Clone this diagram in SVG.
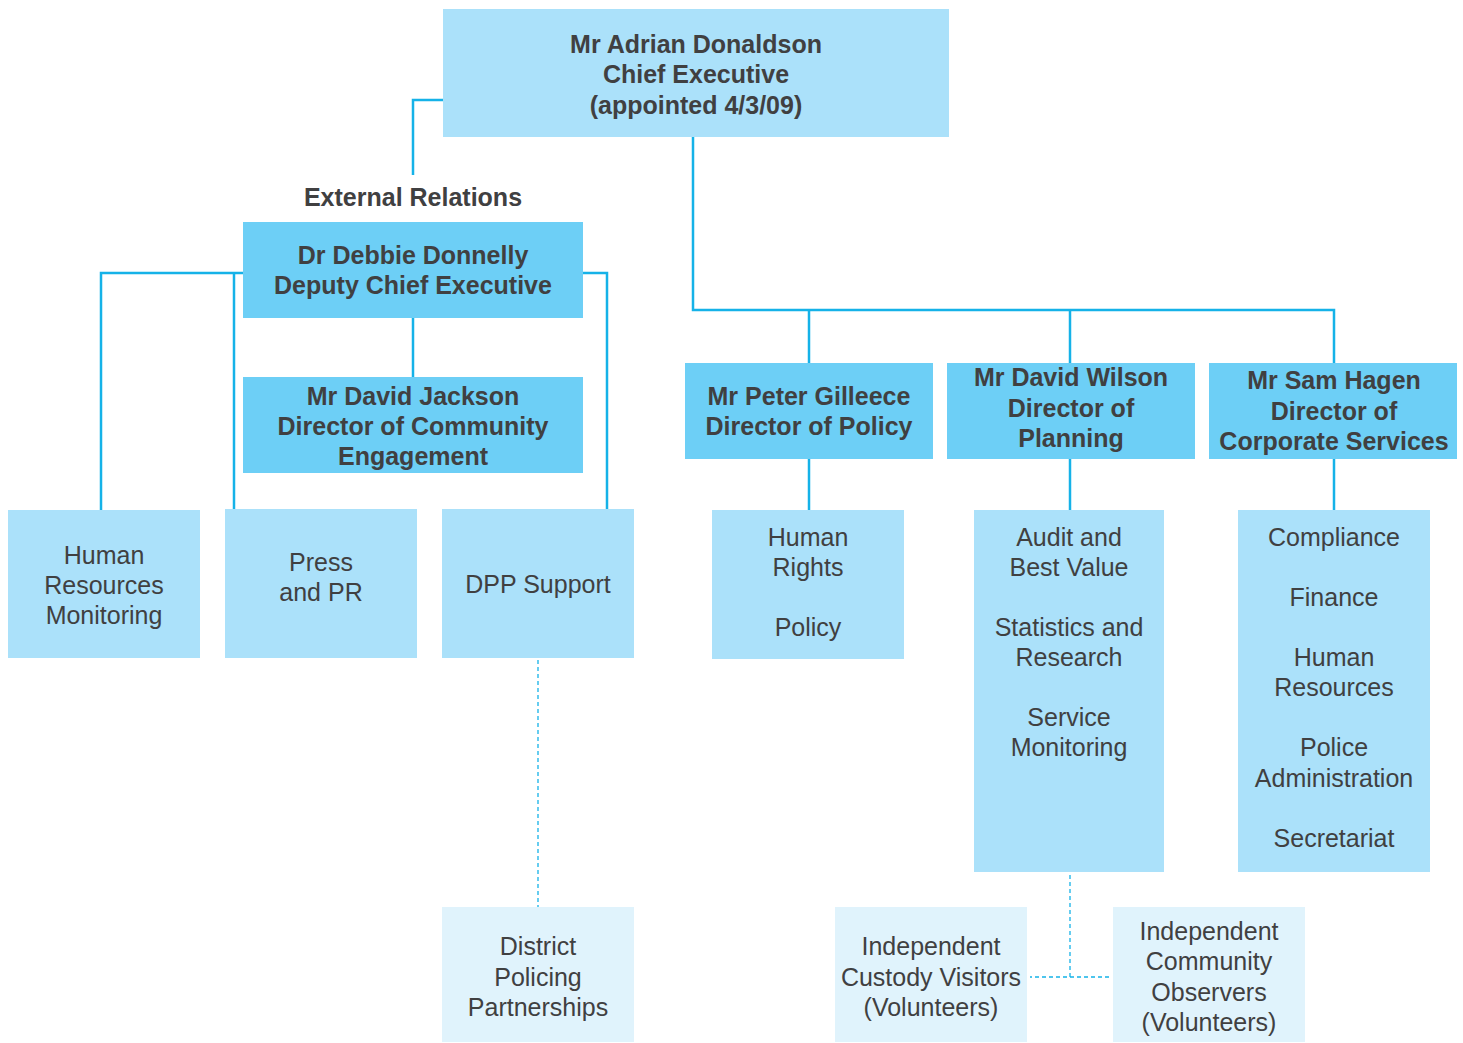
<svg xmlns="http://www.w3.org/2000/svg" width="1463" height="1043" viewBox="0 0 1463 1043">
<style>
.l1{fill:#abe1fa}
.l2{fill:#6dcff6}
.l3{fill:#e0f3fc}
text{font-family:"Liberation Sans",Arial,sans-serif;font-size:25px;fill:#404041;text-anchor:middle}
.b{font-weight:bold}
.c{fill:none;stroke:#15b2e8;stroke-width:2.5}
.d{fill:none;stroke:#15b2e8;stroke-width:1.3;stroke-dasharray:4 3}
</style>
<rect width="1463" height="1043" fill="#fff"/>
<g id="connectors">
<polyline class="c" points="443,100 413,100 413,175"/>
<polyline class="c" points="243,273 101,273 101,510"/>
<line class="c" x1="234" y1="273" x2="234" y2="509"/>
<polyline class="c" points="583,273 607,273 607,509"/>
<line class="c" x1="413" y1="318" x2="413" y2="377"/>
<polyline class="c" points="693,137 693,310 1334,310 1334,363"/>
<line class="c" x1="809" y1="310" x2="809" y2="363"/>
<line class="c" x1="1070" y1="310" x2="1070" y2="363"/>
<line class="c" x1="809" y1="459" x2="809" y2="510"/>
<line class="c" x1="1070" y1="459" x2="1070" y2="510"/>
<line class="c" x1="1334" y1="459" x2="1334" y2="510"/>
<line class="d" x1="538" y1="660" x2="538" y2="907"/>
<polyline class="d" points="1070,875 1070,977 1030,977"/>
<line class="d" x1="1070" y1="977" x2="1112" y2="977"/>
</g>
<g id="ceo"><rect class="l1" x="443" y="9" width="506" height="128"/>
<text class="b" x="696" y="53">Mr Adrian Donaldson</text>
<text class="b" x="696" y="83">Chief Executive</text>
<text class="b" x="696" y="114">(appointed 4/3/09)</text></g>
<g id="ext"><text class="b" x="413" y="206">External Relations</text></g>
<g id="deputy"><rect class="l2" x="243" y="222" width="340" height="96"/>
<text class="b" x="413" y="264">Dr Debbie Donnelly</text>
<text class="b" x="413" y="294">Deputy Chief Executive</text></g>
<g id="jackson"><rect class="l2" x="243" y="377" width="340" height="96"/>
<text class="b" x="413" y="405">Mr David Jackson</text>
<text class="b" x="413" y="435">Director of Community</text>
<text class="b" x="413" y="465">Engagement</text></g>
<g id="hrm"><rect class="l1" x="8" y="510" width="192" height="148"/>
<text x="104" y="564">Human</text><text x="104" y="594">Resources</text><text x="104" y="624">Monitoring</text></g>
<g id="press"><rect class="l1" x="225" y="509" width="192" height="149"/>
<text x="321" y="571">Press</text><text x="321" y="601">and PR</text></g>
<g id="dpp"><rect class="l1" x="442" y="509" width="192" height="149"/>
<text x="538" y="593">DPP Support</text></g>
<g id="dpps"><rect class="l3" x="442" y="907" width="192" height="135"/>
<text x="538" y="955">District</text><text x="538" y="986">Policing</text><text x="538" y="1016">Partnerships</text></g>
<g id="policy"><rect class="l2" x="685" y="363" width="248" height="96"/>
<text class="b" x="809" y="405">Mr Peter Gilleece</text>
<text class="b" x="809" y="435">Director of Policy</text></g>
<g id="planning"><rect class="l2" x="947" y="363" width="248" height="96"/>
<text class="b" x="1071" y="386">Mr David Wilson</text>
<text class="b" x="1071" y="417">Director of</text>
<text class="b" x="1071" y="447">Planning</text></g>
<g id="corporate"><rect class="l2" x="1209" y="363" width="248" height="96"/>
<text class="b" x="1334" y="389">Mr Sam Hagen</text>
<text class="b" x="1334" y="420">Director of</text>
<text class="b" x="1334" y="450">Corporate Services</text></g>
<g id="hr"><rect class="l1" x="712" y="510" width="192" height="149"/>
<text x="808" y="546">Human</text><text x="808" y="576">Rights</text><text x="808" y="636">Policy</text></g>
<g id="audit"><rect class="l1" x="974" y="510" width="190" height="362"/>
<text x="1069" y="546">Audit and</text><text x="1069" y="576">Best Value</text>
<text x="1069" y="636">Statistics and</text><text x="1069" y="666">Research</text>
<text x="1069" y="726">Service</text><text x="1069" y="756">Monitoring</text></g>
<g id="compliance"><rect class="l1" x="1238" y="510" width="192" height="362"/>
<text x="1334" y="546">Compliance</text><text x="1334" y="606">Finance</text>
<text x="1334" y="666">Human</text><text x="1334" y="696">Resources</text>
<text x="1334" y="756">Police</text><text x="1334" y="787">Administration</text>
<text x="1334" y="847">Secretariat</text></g>
<g id="icv"><rect class="l3" x="835" y="907" width="192" height="135"/>
<text x="931" y="955">Independent</text><text x="931" y="986">Custody Visitors</text><text x="931" y="1016">(Volunteers)</text></g>
<g id="ico"><rect class="l3" x="1113" y="907" width="192" height="135"/>
<text x="1209" y="940">Independent</text><text x="1209" y="970">Community</text><text x="1209" y="1001">Observers</text><text x="1209" y="1031">(Volunteers)</text></g>
</svg>
